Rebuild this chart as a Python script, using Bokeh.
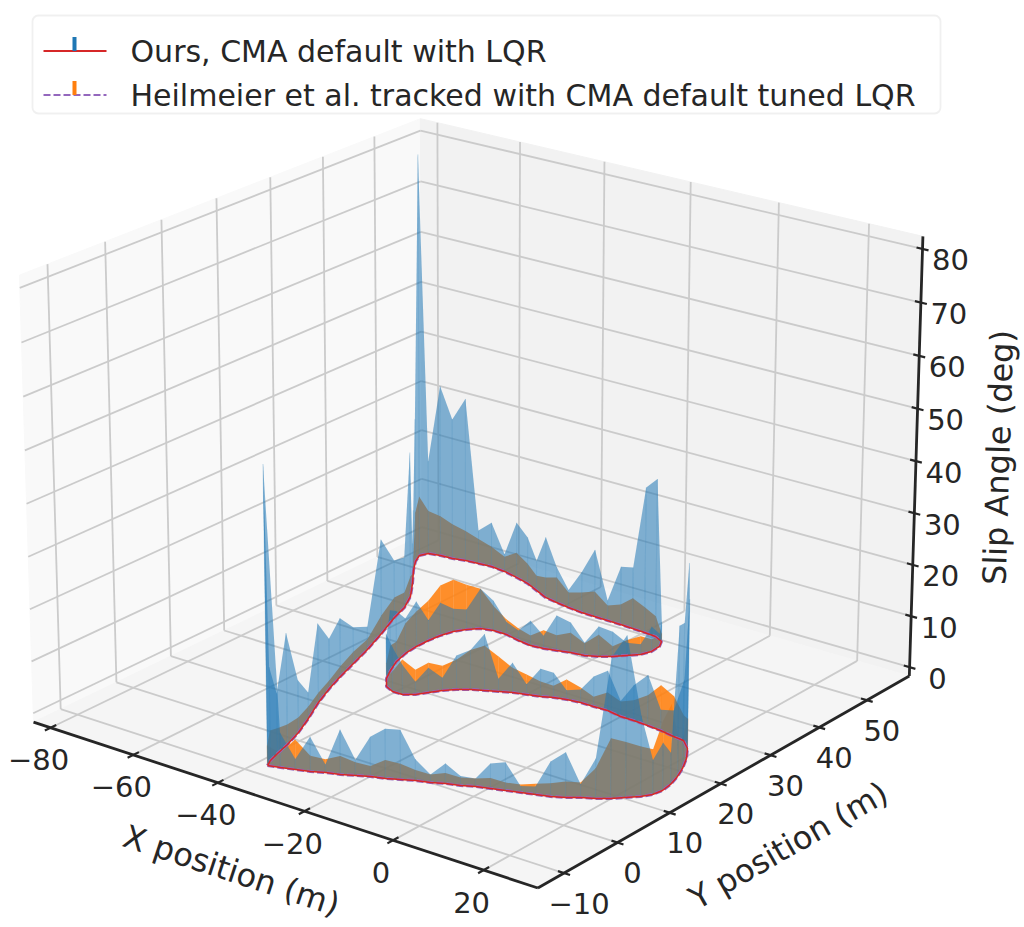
import numpy as np
from bokeh.plotting import figure
from bokeh.embed import file_html
from bokeh.resources import INLINE
from bokeh.models import BoxAnnotation
from bokeh.core.properties import value

# ---------------- data ----------------
track_x = [-35.18, -32.77, -30.09, -27.40, -24.99, -22.32, -19.91, -17.51, -14.85, -12.45,
           -10.06, -7.40, -5.01, -2.36, 0.02, 2.66, 5.30, 7.94, 10.56, 13.19,
           15.56, 17.67, 20.03, 22.14, 24.00, 25.87, 27.06, 27.47, 27.10, 26.08,
           24.77, 22.80, 20.38, 17.74, 15.26, 11.81, 8.61, 5.25, 2.29, -1.22,
           -4.35, -7.34, -10.22, -12.68, -14.86, -17.47, -20.09, -22.43, -24.77, -27.11,
           -29.17, -30.95, -32.44, -33.78, -35.69, -38.02, -40.34, -42.67, -44.41, -46.17,
           -47.19, -47.63, -47.61, -47.30, -46.54, -45.17, -43.36, -40.80, -37.65, -34.09,
           -30.83, -28.01, -25.49, -22.82, -19.87, -17.50, -15.41, -13.60, -11.79, -10.99,
           -11.20, -12.31, -14.63, -17.43, -20.39, -23.36, -26.50, -29.64, -32.79, -36.26,
           -39.58, -42.77, -46.27, -49.79, -53.34, -57.06, -60.64, -63.60, -66.57, -69.23,
           -72.06, -74.58, -75.34, -74.03, -71.47, -67.51, -63.75, -61.26, -59.70, -56.79,
           -54.07, -51.98, -50.06, -48.16, -45.70, -42.55, -40.00, -38.20, -37.10, -36.15]
track_y = [-9.59, -9.11, -8.49, -7.88, -7.05, -6.44, -5.61, -4.78, -4.18, -3.35,
           -2.53, -1.92, -1.10, -0.49, 0.33, 0.93, 1.53, 2.14, 2.74, 3.33,
           4.15, 5.18, 6.00, 7.03, 8.28, 9.54, 10.81, 12.38, 14.27, 16.55,
           18.70, 21.25, 23.61, 25.18, 25.40, 25.88, 26.12, 26.30, 26.31, 26.79,
           26.73, 26.74, 26.45, 25.99, 25.29, 24.76, 24.22, 23.45, 22.68, 21.90,
           20.90, 19.65, 18.18, 16.78, 15.84, 15.82, 16.55, 18.43, 20.60, 23.18,
           25.75, 28.24, 30.58, 32.69, 34.63, 36.09, 37.37, 37.83, 37.80, 37.20,
           36.85, 37.07, 37.53, 38.06, 38.35, 39.13, 40.15, 41.42, 42.69, 44.24,
           46.07, 47.47, 48.28, 48.48, 48.61, 48.73, 48.78, 48.83, 48.89, 49.19,
           49.58, 50.04, 51.16, 52.30, 53.03, 53.69, 54.01, 53.81, 53.61, 53.14,
           53.02, 52.63, 51.41, 49.54, 47.05, 43.63, 40.17, 36.96, 33.72, 28.83,
           23.93, 19.57, 15.56, 11.98, 7.98, 3.64, -0.20, -3.62, -6.29, -8.30]
slip_ours = [56.2, 6.6, 2.0, 6.6, 1.5, 8.5, 3.0, 7.5, 9.4, 9.4,
             4.0, 1.5, 3.8, 1.8, 1.5, 4.7, 5.3, 1.2, 1.5, 6.6,
             8.5, 2.5, 7.5, 26.4, 30.2, 15.1, 6.5, 9.0, 6.0, 28.3,
             27.4, 36.8, 28.3, 11.6, 5.0, 4.0, 9.7, 6.8, 3.0, 7.7,
             5.8, 2.5, 1.8, 4.8, 5.4, 2.0, 5.8, 2.5, 11.0, 7.7,
             6.6, 2.5, 4.8, 2.5, 5.8, 8.7, 10.3, 7.9, 11.8, 9.9,
             6.9, 8.9, 4.0, 6.5, 4.5, 4.0, 7.9, 5.9, 2.5, 2.0,
             4.9, 2.5, 6.9, 5.9, 2.5, 5.9, 4.9, 2.5, 2.0, 4.9,
             2.5, 3.9, 31.0, 28.6, 12.1, 11.5, 4.0, 13.3, 8.1, 3.5,
             7.1, 12.1, 6.0, 9.3, 11.1, 3.5, 8.9, 6.7, 32.7, 28.2,
             34.3, 18.8, 80.0, 28.8, 12.2, 8.1, 28.8, 10.0, 11.4, 18.6,
             4.5, 7.1, 11.4, 9.7, 15.3, 5.0, 10.0, 21.2, 11.4, 17.7]
slip_heil = [3.8, 2.8, 5.7, 3.0, 2.5, 3.5, 2.5, 2.0, 3.5, 3.0,
             2.0, 1.5, 2.0, 1.5, 1.5, 2.0, 1.5, 1.5, 2.0, 2.5,
             3.0, 2.8, 5.7, 11.3, 10.4, 9.4, 8.5, 13.2, 15.1, 7.5,
             5.7, 7.5, 5.7, 4.8, 7.7, 8.7, 5.8, 3.9, 2.9, 3.5,
             1.9, 2.9, 3.9, 2.3, 2.9, 3.9, 4.8, 6.8, 8.7, 7.7,
             5.8, 4.8, 5.8, 4.8, 6.8, 3.9, 1.9, 3.0, 4.9, 3.9,
             5.9, 6.9, 7.9, 9.9, 10.3, 8.9, 7.9, 4.9, 3.0, 2.4,
             2.0, 3.6, 3.0, 3.9, 2.4, 4.3, 2.0, 3.0, 3.6, 2.4,
             2.0, 1.6, 4.0, 5.0, 6.0, 4.0, 3.0, 5.0, 4.0, 3.0,
             5.0, 4.0, 3.0, 4.0, 5.0, 3.0, 4.0, 5.0, 6.0, 7.0,
             8.0, 8.7, 12.0, 10.0, 3.0, 2.0, 4.0, 3.0, 4.0, 3.6,
             2.0, 2.3, 2.0, 1.6, 1.9, 2.3, 2.9, 3.8, 4.8, 5.7]
x_ticks = [-80, -60, -40, -20, 0, 20]
y_ticks = [-10, 0, 10, 20, 30, 40, 50]
z_ticks = [0, 10, 20, 30, 40, 50, 60, 70, 80]
label_ours = "Ours, CMA default with LQR"
label_heil = "Heilmeier et al. tracked with CMA default tuned LQR"

# ---------------- 3D view (matplotlib-like perspective) ----------------
XLIM = (-84.18, 31.75)
YLIM = (-14.80, 59.12)
ZLIM = (-1.73, 82.34)
ELEV, AZIM, DIST = 21.33, -52.50, 10.0
K, OX, OY = 5550.3, 475.15, 480.13
W, H = 1024, 927

ASP = np.array([4, 4, 3.0]) * 1.8294640721620434 / np.linalg.norm([4, 4, 3.0])
_e, _a = np.radians(ELEV), np.radians(AZIM)
VW = np.array([np.cos(_e) * np.cos(_a), np.cos(_e) * np.sin(_a), np.sin(_e)])
VU = np.cross([0, 0, 1.0], VW); VU /= np.linalg.norm(VU)
VV = np.cross(VW, VU)


def proj(x, y, z):
    x, y, z = np.broadcast_arrays(np.asarray(x, float), np.asarray(y, float), np.asarray(z, float))
    d = np.stack([(x - XLIM[0]) / (XLIM[1] - XLIM[0]) * ASP[0],
                  (y - YLIM[0]) / (YLIM[1] - YLIM[0]) * ASP[1],
                  (z - ZLIM[0]) / (ZLIM[1] - ZLIM[0]) * ASP[2]], -1) - ASP / 2
    den = DIST - d @ VW
    return d @ VU / den, d @ VV / den


def pg(px, py):
    return (px - OX) / K, (OY - py) / K


def fmt(t):
    return str(t).replace("-", "\u2212")


FONT = value("DejaVu Sans")
TXT = "#262626"

p = figure(width=W, height=H,
           x_range=((0 - OX) / K, (W - OX) / K),
           y_range=((OY - H) / K, (OY - 0) / K),
           output_backend="svg", toolbar_location=None,
           x_axis_location=None, y_axis_location=None, min_border=0)
p.grid.grid_line_color = None
p.outline_line_color = None
p.background_fill_color = "white"

x0, x1 = XLIM; y0, y1 = YLIM; z0, z1 = ZLIM

# panes
for xs, ys, zs, col in [([x0, x0, x0, x0], [y0, y1, y1, y0], [z0, z0, z1, z1], "#f9f9f9"),
                        ([x0, x1, x1, x0], [y1, y1, y1, y1], [z0, z0, z1, z1], "#f2f2f2"),
                        ([x0, x1, x1, x0], [y0, y0, y1, y1], [z0, z0, z0, z0], "#f5f5f5")]:
    sx, sy = proj(xs, ys, zs)
    p.patch(sx, sy, fill_color=col, line_color=col, line_width=1)

# grid lines
g0, g1 = [], []
for t in x_ticks:
    g0 += [(t, y0, z0), (t, y1, z0)]; g1 += [(t, y1, z0), (t, y1, z1)]
for t in y_ticks:
    g0 += [(x0, t, z0), (x0, t, z0)]; g1 += [(x1, t, z0), (x0, t, z1)]
for t in z_ticks:
    g0 += [(x0, y0, t), (x0, y1, t)]; g1 += [(x0, y1, t), (x1, y1, t)]
a = np.array(g0); b = np.array(g1)
ax_, ay_ = proj(a[:, 0], a[:, 1], a[:, 2]); bx_, by_ = proj(b[:, 0], b[:, 1], b[:, 2])
p.segment(ax_, ay_, bx_, by_, line_color="#cbcbcb", line_width=1.8)

# axis lines
for xs, ys, zs in [([x0, x1], [y0, y0], [z0, z0]), ([x1, x1], [y0, y1], [z0, z0]),
                   ([x1, x1], [y1, y1], [z0, z1])]:
    sx, sy = proj(xs, ys, zs)
    p.line(sx, sy, line_color=TXT, line_width=2.8)

# ticks
tk0, tk1 = [], []
for t in x_ticks:
    tk0.append((t, y0 - 1.0, z0)); tk1.append((t, y0 + 1.0, z0))
for t in y_ticks:
    tk0.append((x1 - 1.3, t, z0)); tk1.append((x1 + 1.3, t, z0))
for t in z_ticks:
    tk0.append((x1 - 1.3, y1, t)); tk1.append((x1 + 1.3, y1, t))
a = np.array(tk0); b = np.array(tk1)
ax_, ay_ = proj(a[:, 0], a[:, 1], a[:, 2]); bx_, by_ = proj(b[:, 0], b[:, 1], b[:, 2])
p.segment(ax_, ay_, bx_, by_, line_color=TXT, line_width=2.2)

# tick labels
lx, ly, lt = [], [], []
sx, sy = proj(x_ticks, y0, z0)
lx += list(sx - 12 / K); ly += list(sy - 32 / K); lt += [fmt(t) for t in x_ticks]
sx, sy = proj(x1, y_ticks, z0)
lx += list(sx + 15 / K); ly += list(sy - 30 / K); lt += [fmt(t) for t in y_ticks]
sx, sy = proj(x1, y1, z_ticks)
lx += list(sx + 28 / K); ly += list(sy - 11 / K); lt += [fmt(t) for t in z_ticks]
p.text(lx, ly, text=lt, text_align="center", text_baseline="middle", text_font=FONT,
       text_font_size="29px", text_color=TXT)


# axis labels
def axis_angle(xs, ys, zs):
    sx, sy = proj(xs, ys, zs)
    return float(np.arctan2(sy[1] - sy[0], sx[1] - sx[0]))


for txt, (cx, cy), ang in [("X position (m)", pg(231, 870), axis_angle([x0, x1], [y0, y0], [z0, z0])),
                           ("Y position (m)", pg(788, 845), axis_angle([x1, x1], [y0, y1], [z0, z0])),
                           ("Slip Angle (deg)", pg(998, 457), axis_angle([x1, x1], [y1, y1], [z0, z1]))]:
    p.text([cx], [cy], text=[txt], angle=ang, text_align="center", text_baseline="middle",
           text_font=FONT, text_font_size="32px", text_color=TXT)

# ---------------- data: stems (curtains) and baselines ----------------
tx = np.array(track_x); ty = np.array(track_y)
n = len(tx)
bx, by = proj(tx, ty, 0.0)


def curtain(vals, color, alpha, stem_alpha):
    topx, topy = proj(tx, ty, np.array(vals))
    xs, ys = [], []
    for i in range(n):
        j = (i + 1) % n
        xs.append([bx[i], topx[i], topx[j], bx[j]])
        ys.append([by[i], topy[i], topy[j], by[j]])
    p.patches(xs, ys, fill_color=color, fill_alpha=alpha, line_color=None)
    p.segment(bx, by, topx, topy, line_color=color, line_alpha=stem_alpha, line_width=1.0)


curtain(slip_heil, "#ff7f0e", 0.88, 0.3)
curtain(slip_ours, "#1f77b4", 0.55, 0.25)

lx_ = list(bx) + [bx[0]]; ly_ = list(by) + [by[0]]
p.line(lx_, ly_, line_color="#9467bd", line_width=3.0, line_dash="7 3")
p.line(lx_, ly_, line_color="#d62728", line_width=1.5)

# ---------------- legend ----------------
L, T = pg(32, 15); R, B = pg(940, 113)
try:
    box = BoxAnnotation(left=L, right=R, top=T, bottom=B, fill_color="white", fill_alpha=1.0,
                        line_color="#cccccc", line_width=1.8, border_radius=6, level="underlay")
except Exception:
    box = BoxAnnotation(left=L, right=R, top=T, bottom=B, fill_color="white", fill_alpha=1.0,
                        line_color="#cccccc", line_width=1.8, level="underlay")
p.add_layout(box)

for yy, lc, dash, bc, txt in [(50.5, "#d62728", "solid", "#1f77b4", label_ours),
                              (94.5, "#9467bd", "7 3", "#ff7f0e", label_heil)]:
    ax1, ay1 = pg(43, yy); ax2, ay2 = pg(106, yy)
    p.line([ax1, ax2], [ay1, ay2], line_color=lc, line_width=2.2, line_dash=dash)
    sx1, sy1 = pg(74, yy - 14); sx2, sy2 = pg(74, yy)
    p.segment([sx1], [sy1], [sx2], [sy2], line_color=bc, line_width=4)
    tx_, ty_ = pg(130, yy)
    p.text([tx_], [ty_], text=[txt], text_align="left", text_baseline="alphabetic",
           text_font=FONT, text_font_size="30px", text_color=TXT)

open("out.html", "w").write(file_html(p, INLINE))
